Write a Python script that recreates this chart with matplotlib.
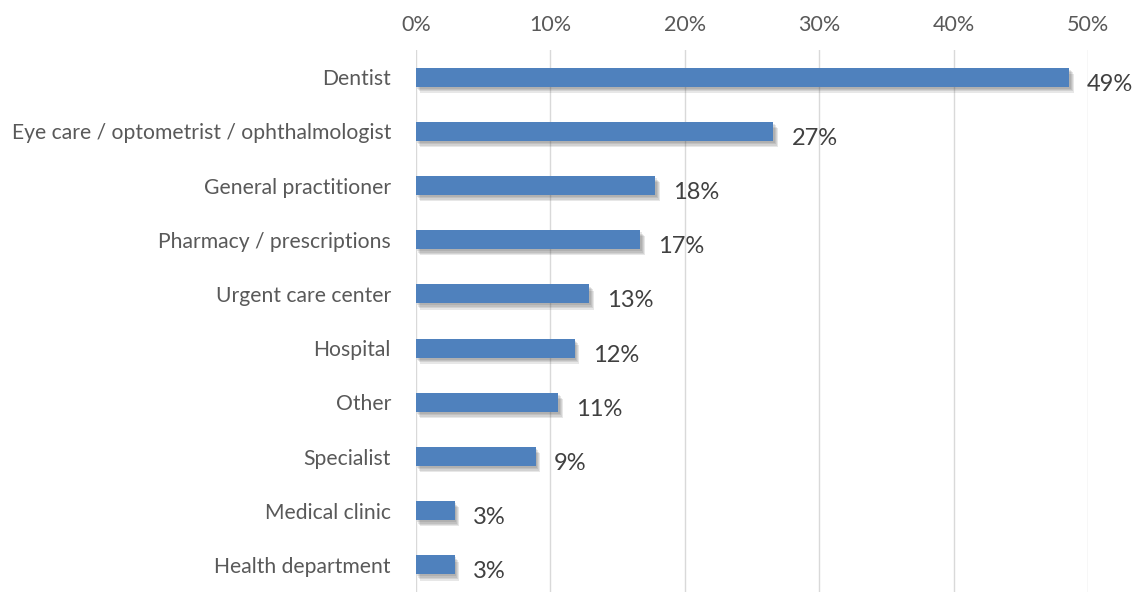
import matplotlib.pyplot as plt
import matplotlib.patheffects as pe
from matplotlib.ticker import PercentFormatter

categories = [
    "Dentist",
    "Eye care / optometrist / ophthalmologist",
    "General practitioner",
    "Pharmacy / prescriptions",
    "Urgent care center",
    "Hospital",
    "Other",
    "Specialist",
    "Medical clinic",
    "Health department",
]
shares = [48.6, 26.6, 17.8, 16.7, 12.9, 11.8, 10.6, 8.9, 2.9, 2.9]
x_ticks = [0, 10, 20, 30, 40, 50]

BAR = "#4f81bd"
TEXT = "#595959"
FONT = "Lato"

fig = plt.figure(figsize=(11.39, 5.92), dpi=100)
ax = fig.add_axes([0.3652, 0.0, 0.5900, 0.9155])

ypos = list(range(len(categories)))[::-1]
bars = ax.barh(ypos, shares, height=0.35, color=BAR, zorder=3)

# soft drop shadow: a few stacked, faint offset copies
shadow = [
    pe.SimplePatchShadow(offset=(dx, -dy), shadow_rgbFace="#404040", alpha=0.12)
    for dx, dy in [(1, 1.5), (1.8, 2.5), (2.5, 3.5), (3.2, 4.5)]
]
for b in bars:
    b.set_path_effects(shadow + [pe.Normal()])

for y, v in zip(ypos, shares):
    ax.annotate(f"{v:.0f}%", xy=(v, y), xytext=(13, -5), textcoords="offset points",
                ha="left", va="center", fontsize=17, color="#404040", family=FONT)

ax.set_xlim(0, 50)
ax.set_ylim(-0.5, len(categories) - 0.5)
ax.set_xticks(x_ticks)
ax.xaxis.set_major_formatter(PercentFormatter(decimals=0))
ax.xaxis.tick_top()
ax.tick_params(axis="x", length=0, pad=11, labelsize=15.5, labelcolor=TEXT)
ax.set_yticks(ypos, categories)
ax.tick_params(axis="y", length=0, pad=18, labelsize=15.2, labelcolor=TEXT)
for lbl in ax.get_xticklabels() + ax.get_yticklabels():
    lbl.set_family(FONT)

ax.grid(axis="x", color="#d9d9d9", linewidth=1, zorder=0)
for s in ax.spines.values():
    s.set_visible(False)

fig.savefig("out.png", dpi=100)
